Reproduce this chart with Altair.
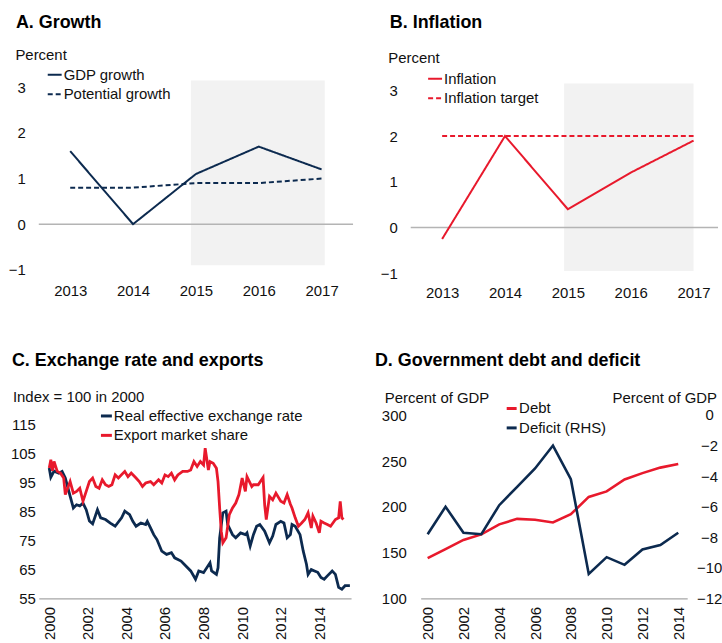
import altair as alt
import pandas as pd

FONT = "Liberation Sans"
NAVY = "#0c2a4f"
RED = "#e8192c"
SHADE = "#f2f2f2"
ZERO = "#b4b4b4"
AXISLINE = "#a6a6a6"
TXT = "#111111"

# ---------------- data ----------------
years_ab = [2013, 2014, 2015, 2016, 2017]
gdp_growth = [1.6, 0.0, 1.1, 1.7, 1.2]
potential_growth = [0.8, 0.8, 0.9, 0.9, 1.0]
inflation = [-0.25, 2.0, 0.4, 1.2, 1.9]
inflation_target = [2.0, 2.0, 2.0, 2.0, 2.0]
shade_a = [2014.92, 2017.05, -0.9, 3.15]
shade_b = [2014.94, 2017.0, -0.95, 3.15]

reer_months = ["2000-01", "2000-02", "2000-04", "2000-07", "2000-09", "2000-11", "2001-02", "2001-04",
               "2001-06", "2001-08", "2001-10", "2001-12", "2002-02", "2002-04", "2002-07", "2002-09",
               "2002-12", "2003-03", "2003-06", "2003-10", "2003-12", "2004-03", "2004-05", "2004-07",
               "2004-10", "2005-01", "2005-02", "2005-04", "2005-06", "2005-08", "2005-11", "2006-02",
               "2006-05", "2006-07", "2006-11", "2007-02", "2007-05", "2007-08", "2007-10", "2008-01",
               "2008-05", "2008-06", "2008-09", "2008-10", "2008-11", "2009-01", "2009-03", "2009-04",
               "2009-07", "2009-09", "2009-12", "2010-03", "2010-04", "2010-06", "2010-08", "2010-10",
               "2010-12", "2011-03", "2011-06", "2011-08", "2011-10", "2012-01", "2012-03", "2012-05",
               "2012-07", "2012-08", "2012-10", "2013-01", "2013-03", "2013-05", "2013-06", "2013-08",
               "2013-10", "2013-12", "2014-02", "2014-04", "2014-06", "2014-09", "2014-11", "2015-01",
               "2015-03", "2015-05", "2015-08"]
reer_values = [100.0, 96.8, 98.9, 98.2, 98.8, 96.5, 90.3, 86.2,
               87.3, 86.9, 87.9, 85.6, 81.7, 80.7, 85.6, 82.8,
               82.2, 81.0, 79.9, 82.8, 85.1, 83.9, 81.6, 79.9,
               81.0, 80.5, 81.6, 79.3, 77.0, 75.3, 71.3, 70.2,
               70.8, 69.0, 67.9, 66.2, 64.5, 61.6, 64.5, 63.9,
               67.3, 64.5, 63.3, 65.6, 75.9, 84.5, 85.1, 80.5,
               77.0, 75.9, 77.6, 77.0, 77.6, 73.1, 77.0, 79.9,
               80.5, 78.2, 74.2, 76.5, 80.5, 81.6, 81.0, 75.9,
               77.0, 80.5, 79.9, 77.0, 71.3, 66.8, 63.3, 65.0,
               64.5, 64.0, 62.2, 61.6, 62.8, 64.5, 63.3, 58.8,
               58.2, 59.4, 59.4]

ems_months = ["2000-01", "2000-02", "2000-03", "2000-04", "2000-06", "2000-08", "2000-10", "2000-11",
              "2001-02", "2001-04", "2001-06", "2001-08", "2001-10", "2001-12", "2002-02", "2002-04",
              "2002-06", "2002-08", "2002-10", "2002-12", "2003-02", "2003-04", "2003-06", "2003-08",
              "2003-12", "2004-02", "2004-04", "2004-07", "2004-09", "2004-11", "2005-01", "2005-04",
              "2005-06", "2005-09", "2005-11", "2006-01", "2006-03", "2006-05", "2006-07", "2006-09",
              "2006-12", "2007-03", "2007-05", "2007-07", "2007-09", "2007-11", "2008-01", "2008-02",
              "2008-04", "2008-05", "2008-07", "2008-09", "2008-10", "2008-11", "2008-12", "2009-01",
              "2009-03", "2009-05", "2009-07", "2009-09", "2009-11", "2010-01", "2010-03", "2010-04",
              "2010-07", "2010-08", "2010-11", "2011-02", "2011-03", "2011-04", "2011-06", "2011-08",
              "2011-10", "2012-01", "2012-03", "2012-05", "2012-07", "2012-08", "2012-10", "2012-12",
              "2013-02", "2013-04", "2013-06", "2013-08", "2013-09", "2013-11", "2014-01", "2014-02",
              "2014-04", "2014-06", "2014-08", "2014-11", "2015-01", "2015-02", "2015-03", "2015-04"]
ems_values = [100.0, 102.8, 99.0, 102.2, 98.8, 98.2, 96.5, 90.8,
              95.3, 91.3, 91.9, 93.0, 88.5, 91.9, 95.3, 96.5,
              93.6, 93.0, 95.9, 94.2, 93.6, 94.2, 97.6, 96.5,
              98.8, 97.0, 98.2, 96.5, 95.3, 93.6, 94.8, 95.3,
              94.2, 95.9, 94.8, 97.6, 97.0, 98.2, 95.9, 97.6,
              98.8, 98.8, 99.3, 102.2, 100.5, 102.2, 101.0, 106.8,
              99.3, 102.2, 101.6, 99.9, 95.3, 86.2, 78.2, 74.2,
              75.9, 83.9, 86.2, 87.9, 90.8, 96.5, 91.9, 97.0,
              93.6, 94.2, 94.2, 96.7, 87.3, 82.2, 90.2, 89.0,
              91.3, 88.5, 87.9, 90.8, 87.5, 86.2, 82.8, 79.9,
              81.0, 82.2, 84.5, 79.3, 83.4, 81.0, 77.6, 81.6,
              81.0, 80.5, 79.9, 82.2, 82.8, 88.5, 82.8, 82.2]

years_d = list(range(2000, 2015))
debt = [144, 154, 164, 170, 181, 187, 186, 183, 192, 211, 217, 230, 237, 243, 247]
deficit = [-7.8, -6.0, -7.7, -7.8, -5.9, -4.7, -3.5, -2.0, -4.2, -10.4, -9.3, -9.8, -8.8, -8.5, -7.7]


def dec_year(m):
    y, mo = m.split("-")
    return int(y) + (int(mo) - 1) / 12.0


# ---------------- helpers ----------------
def title(text, dx, offset):
    return alt.TitleParams(text, anchor="start", frame="group", dx=dx, offset=offset,
                           fontSize=18, fontWeight="bold", font=FONT, color="black")


def leg(x, y, width, sw, loff=1):
    return alt.Legend(orient="none", legendX=x, legendY=y, symbolType="stroke",
                      symbolSize=width * width, symbolStrokeWidth=sw, labelFontSize=15,
                      labelFont=FONT, labelColor=TXT, labelOffset=loff, rowPadding=3.5,
                      padding=0, labelLimit=400)


def panel_ab(vals1, vals2, names, color, shade, ydom, x_right, width, ttl, tdx, toff,
             ytx, yty, lx, ly, xlp):
    xsc = alt.Scale(domain=[2012.5, x_right], nice=False, zero=False)
    ysc = alt.Scale(domain=ydom, nice=False, zero=False)
    xax = alt.Axis(values=years_ab, format="d", title=None, grid=False, domain=False,
                   ticks=False, tickSize=0, labelPadding=xlp, labelFontSize=15)
    yax = alt.Axis(values=[-1, 0, 1, 2, 3], title="Percent", titleAngle=0, titleAlign="left",
                   titleBaseline="alphabetic", titleX=ytx, titleY=yty, grid=False, domain=False,
                   ticks=False, tickSize=0, labelPadding=13.5, labelFontSize=15)
    sdf = pd.DataFrame({"x0": [shade[0]], "x1": [shade[1]], "y0": [shade[2]], "y1": [shade[3]]})
    rect = alt.Chart(sdf).mark_rect(color=SHADE).encode(
        x=alt.X("x0:Q", scale=xsc, axis=xax), x2="x1",
        y=alt.Y("y0:Q", scale=ysc, axis=yax), y2="y1")
    zdf = pd.DataFrame({"v": [0]})
    zero = alt.Chart(zdf).mark_rule(color=ZERO, strokeWidth=1.5).encode(
        y=alt.Y("v:Q", scale=ysc, axis=yax))
    df = pd.DataFrame({"year": years_ab * 2, "value": vals1 + vals2,
                       "series": [names[0]] * 5 + [names[1]] * 5})
    lines = alt.Chart(df).mark_line(strokeWidth=2).encode(
        x=alt.X("year:Q", scale=xsc, axis=xax),
        y=alt.Y("value:Q", scale=ysc, axis=yax),
        color=alt.Color("series:N", scale=alt.Scale(domain=names, range=[color, color]),
                        legend=leg(lx, ly, 14, 2), title=None),
        strokeDash=alt.StrokeDash("series:N", scale=alt.Scale(domain=names, range=[[1, 0], [5, 3]]),
                                  legend=leg(lx, ly, 14, 2), title=None),
    )
    return alt.layer(rect, zero, lines).properties(
        width=width, height=208, title=title(ttl, tdx, toff))


A = panel_ab(gdp_growth, potential_growth, ["GDP growth", "Potential growth"], NAVY, shade_a,
             [-1.142, 3.393], 2017.5, 316, "A. Growth", -23, 16, -24, -10, 8, -2.5, 7)
B = panel_ab(inflation, inflation_target, ["Inflation", "Inflation target"], RED, shade_b,
             [-1.065, 3.457], 2012.5 + 309 / 63.2, 309, "B. Inflation", -21, 19, -23, -7, 16.5, 1.5, 9.5)

# ---------------- panel C ----------------
c_names = ["Real effective exchange rate", "Export market share"]
cdf = pd.DataFrame({
    "year": [dec_year(m) for m in reer_months] + [dec_year(m) for m in ems_months],
    "value": reer_values + ems_values,
    "series": [c_names[0]] * len(reer_values) + [c_names[1]] * len(ems_values),
})
C = alt.Chart(cdf).mark_line(strokeWidth=2.8).encode(
    x=alt.X("year:Q", scale=alt.Scale(domain=[2000 - 10.5 / 19.4, 2000 + 303.5 / 19.4], nice=False, zero=False),
            axis=alt.Axis(values=list(range(2000, 2015, 2)), format="d", title=None, grid=False,
                          ticks=False, tickSize=0, labelAngle=270, labelPadding=8, labelFontSize=15,
                          domain=True, domainColor=AXISLINE, domainWidth=1.2)),
    y=alt.Y("value:Q", scale=alt.Scale(domain=[55, 55 + 201 / 2.917], nice=False, zero=False),
            axis=alt.Axis(values=list(range(55, 116, 10)), title="Index = 100 in 2000", titleAngle=0,
                          titleAlign="left", titleBaseline="alphabetic", titleX=-26.5, titleY=2.5,
                          grid=False, domain=False, ticks=False, tickSize=0, labelPadding=3.5,
                          labelFontSize=15)),
    color=alt.Color("series:N", scale=alt.Scale(domain=c_names, range=[NAVY, RED]),
                    legend=leg(60.5, 10, 11, 3, 0), title=None),
    detail="series:N",
).properties(width=314, height=201, title=title("C. Exchange rate and exports", -27, 19))

# ---------------- panel D ----------------
d_names = ["Debt", "Deficit (RHS)"]
dxsc = alt.Scale(domain=[1999.61, 2014.5], nice=False, zero=False)
dxax = alt.Axis(values=list(range(2000, 2015, 2)), format="d", title=None, grid=False,
                ticks=False, tickSize=0, labelAngle=270, labelPadding=8, labelFontSize=15,
                domain=True, domainColor=AXISLINE, domainWidth=1.2)
dcol = alt.Scale(domain=d_names, range=[RED, NAVY])
ddf1 = pd.DataFrame({"year": years_d, "debt": debt, "series": d_names[0]})
ddf2 = pd.DataFrame({"year": years_d, "deficit": deficit, "series": d_names[1]})
D1 = alt.Chart(ddf1).mark_line(strokeWidth=2.6).encode(
    x=alt.X("year:Q", scale=dxsc, axis=dxax),
    y=alt.Y("debt:Q", scale=alt.Scale(domain=[100, 100 + 201 / 0.92], nice=False, zero=False),
            axis=alt.Axis(orient="left", values=list(range(100, 301, 50)), title="Percent of GDP",
                          titleAngle=0, titleAlign="left", titleBaseline="alphabetic", titleX=-36.5,
                          titleY=4.3, grid=False, domain=False, ticks=False, tickSize=0,
                          labelPadding=14.5, labelFontSize=15)),
    color=alt.Color("series:N", scale=dcol, legend=leg(84, 2.5, 10, 3, 0), title=None),
)
D2 = alt.Chart(ddf2).mark_line(strokeWidth=2.6).encode(
    x=alt.X("year:Q", scale=dxsc, axis=dxax),
    y=alt.Y("deficit:Q", scale=alt.Scale(domain=[-12, -12 + 201 / 15.375], nice=False, zero=False),
            axis=alt.Axis(orient="right", values=list(range(-12, 1, 2)), title="Percent of GDP",
                          titleAngle=0, titleAlign="left", titleBaseline="alphabetic", titleX=-75.5,
                          titleY=4.3, grid=False, domain=False, ticks=False, tickSize=0,
                          labelAlign="center", labelPadding=22, labelFontSize=15)),
    color=alt.Color("series:N", scale=dcol, legend=leg(84, 2.5, 10, 3, 0), title=None),
)
D = alt.layer(D1, D2).resolve_scale(y="independent").properties(
    width=268, height=201, title=title("D. Government debt and deficit", -46, 21))

row1 = alt.hconcat(A, B, spacing=58, bounds="flush").resolve_scale(
    color="independent", strokeDash="independent")
row2 = alt.hconcat(C, D, spacing=70, bounds="flush").resolve_scale(color="independent")
chart = alt.vconcat(row1, row2, spacing=51).resolve_scale(
    color="independent", strokeDash="independent"
).properties(
    padding={"left": 8, "top": 12, "right": 0, "bottom": 0}
).configure_view(stroke=None).configure_axis(
    labelFont=FONT, titleFont=FONT, labelColor=TXT, titleColor=TXT, titleFontSize=15,
    titleFontWeight="normal", labelFontSize=15
).configure_legend(labelFont=FONT)

chart.save("out.html", embed_options={"renderer": "svg", "actions": False})
